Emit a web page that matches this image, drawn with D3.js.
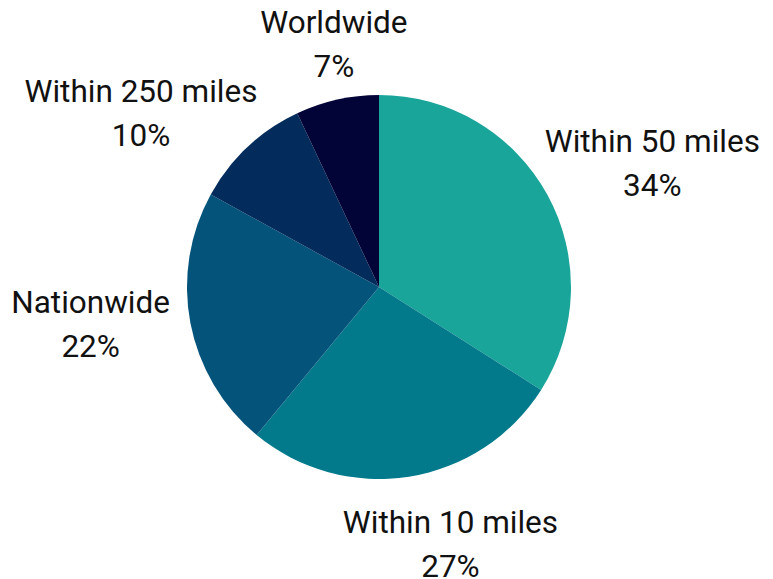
<!DOCTYPE html>
<html>
<head>
<meta charset="utf-8">
<script src="https://cdn.jsdelivr.net/npm/d3@7"></script>
<style>
  html, body { margin: 0; padding: 0; background: #ffffff; }
  svg { display: block; }
  text { font-family: Roboto, "Noto Sans", sans-serif; fill: #111111; }
</style>
</head>
<body>
<svg id="chart" width="773" height="579"></svg>
<script>
// ---- data ----
const categories = ["Within 50 miles", "Within 10 miles", "Nationwide", "Within 250 miles", "Worldwide"];
const values = [34, 27, 22, 10, 7];
const colors = ["#1aa59a", "#027a8b", "#03537a", "#032c5c", "#020336"];

// ---- layout ----
const W = 773, H = 579;
const cx = 379, cy = 287, r = 192;
const fontSize = 31.5, lineGap = 44;
// fine adjustments of label blocks (px), in slice order
const labelNudge = [[2, -7], [23, 18], [-12, -8], [-20, 2], [15, -7]];

const svg = d3.select("#chart");
const g = svg.append("g").attr("transform", `translate(${cx},${cy})`);

const data = categories.map((c, i) => ({ cat: c, value: values[i], color: colors[i] }));
const pie = d3.pie().value(d => d.value).sort(null);
const arcs = pie(data);
const arc = d3.arc().innerRadius(0).outerRadius(r);

g.selectAll("path.slice")
  .data(arcs)
  .join("path")
  .attr("class", "slice")
  .attr("d", arc)
  .attr("fill", d => d.data.color);

const labels = g.selectAll("g.lbl")
  .data(arcs)
  .join("g")
  .attr("class", "lbl");

labels.each(function (d, i) {
  const sel = d3.select(this);
  const t1 = sel.append("text").attr("text-anchor", "middle").attr("font-size", fontSize).text(d.data.cat);
  const t2 = sel.append("text").attr("text-anchor", "middle").attr("font-size", fontSize).text(d.data.value + "%");
  const w = Math.max(t1.node().getComputedTextLength(), t2.node().getComputedTextLength());
  const h = 80;
  const a = (d.startAngle + d.endAngle) / 2;
  const ax = Math.sin(a) * (r + 10), ay = -Math.cos(a) * (r + 10);
  const bx = ax + Math.sin(a) * w / 2 + labelNudge[i][0];
  const by = ay - Math.cos(a) * h / 2 + labelNudge[i][1];
  t1.attr("x", bx).attr("y", by - 11);
  t2.attr("x", bx).attr("y", by - 11 + lineGap);
});
</script>
</body>
</html>
